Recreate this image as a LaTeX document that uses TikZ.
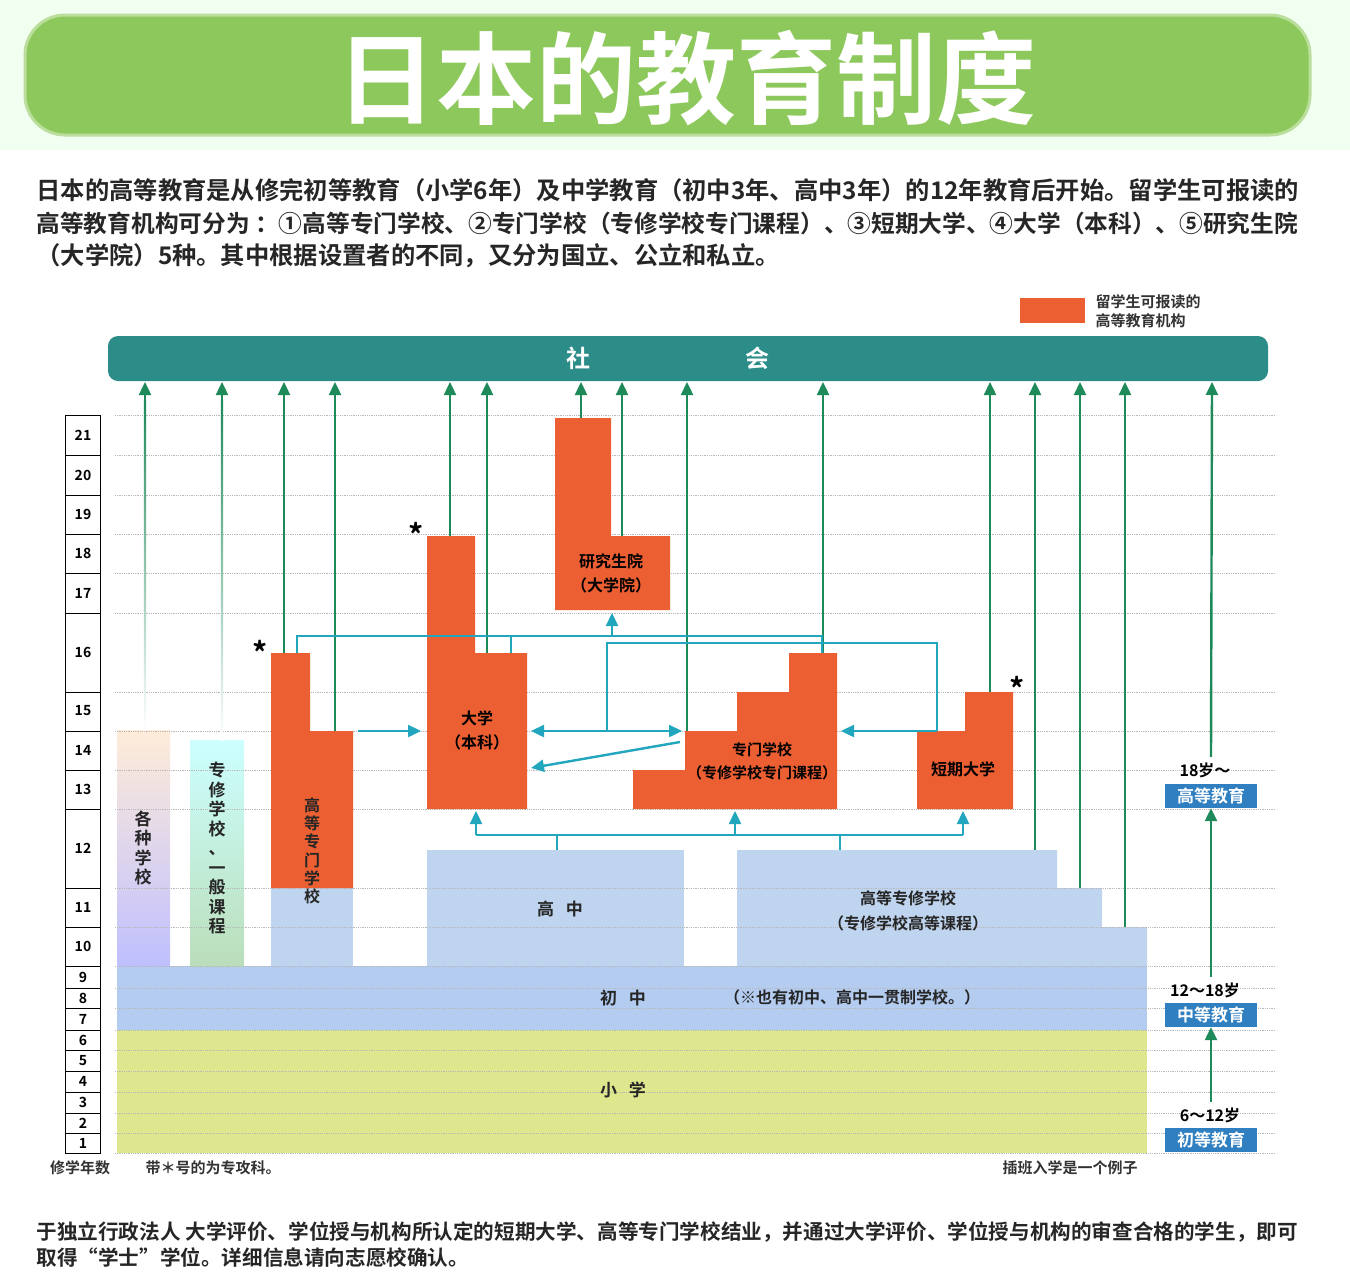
\documentclass[tikz,border=0pt]{standalone}
\usepackage{fontspec}
\setmainfont{Noto Sans CJK SC}[BoldFont={Noto Sans CJK SC Bold}]
\usetikzlibrary{arrows.meta}
\definecolor{org}{HTML}{EB5F32}
\definecolor{lb}{HTML}{BFD4EF}
\definecolor{cz}{HTML}{B3CCF0}
\definecolor{xx}{HTML}{DFE78E}
\definecolor{teal}{HTML}{2C8C88}
\definecolor{gar}{HTML}{1E8A5A}
\definecolor{cy}{HTML}{22A6BE}
\definecolor{bbox}{HTML}{2F7FC1}
\definecolor{ban}{HTML}{8DC85C}
\definecolor{grid}{HTML}{B8B8B8}
\tikzset{
 garrow/.style={gar,line width=2.4pt,-{Triangle[length=13pt,width=12pt]}},
 carrow/.style={cy,line width=2.4pt,-{Triangle[length=13pt,width=12pt]}},
 cline/.style={cy,line width=2.4pt},
 lbl/.style={font=\fontsize{17}{19}\selectfont\bfseries,text=black!85},
 vtxt/.style={lbl,align=center,font=\fontsize{17}{19.5}\selectfont\bfseries},
 para/.style={anchor=west,font=\fontsize{24.3}{26}\selectfont\bfseries,text=black!85},
 rnum/.style={font=\fontsize{14}{16}\selectfont\bfseries},
 agebox/.style={fill=bbox,text=white,minimum width=92pt,minimum height=24pt,font=\fontsize{17}{19}\selectfont\bfseries,inner sep=0pt},
 note/.style={font=\fontsize{15}{17}\selectfont\bfseries,text=black!80},
 star/.style={font=\fontsize{30}{30}\selectfont\bfseries},
}
\begin{document}
\begin{tikzpicture}[x=1pt,y=-1pt]
\useasboundingbox (0,0) rectangle (1350,1280);
\fill[green!6] (0,0) rectangle (1350,150);
% banner
\draw[line width=3pt,draw=ban!60,fill=ban,rounded corners=40pt] (25,15) rectangle (1310,135);
\node[font=\fontsize{100}{104}\selectfont\bfseries,text=white] (title) at (686,78) {日本的教育制度};
% paragraph
\node[para] (p1) at (33,190) {日本的高等教育是从修完初等教育（小学6年）及中学教育（初中3年、高中3年）的12年教育后开始。留学生可报读的};
\node[para,font=\fontsize{23.7}{26}\selectfont\bfseries] (p2) at (33,223) {高等教育机构可分为 ：①高等专门学校、②专门学校（专修学校专门课程）、③短期大学、④大学（本科）、⑤研究生院};
\node[para] (p3) at (33,256) {（大学院）5种。其中根据设置者的不同，又分为国立、公立和私立。};
% legend
\fill[org] (1020,298) rectangle (1085,323);
\node[note,anchor=west,align=left,font=\fontsize{15}{19}\selectfont\bfseries] (leg) at (1092,311) {留学生可报读的\\高等教育机构};
% society bar
\fill[teal,rounded corners=10pt] (108,336) rectangle (1268,381);
\node[text=white,font=\fontsize{24}{26}\selectfont\bfseries] (s1) at (578,358) {社};
\node[text=white,font=\fontsize{24}{26}\selectfont\bfseries] (s2) at (757,358) {会};
% bottom colour bands
\fill[xx] (117,1030) rectangle (1147,1153);
\fill[cz] (117,966) rectangle (1147,1030);
% columns
\shade[top color=orange!15,middle color=pink!60,bottom color=blue!25] (117,730) rectangle (170,966);
\shade[top color=cyan!20,middle color=cyan!30,bottom color=green!35!gray!40] (190,740) rectangle (244,966);
\fill[lb] (271,888) rectangle (353,966);
\fill[lb] (427,850) rectangle (684,966);
\fill[lb] (737,850) -- (1057,850) -- (1057,888) -- (1102,888) -- (1102,927) -- (1147,927) -- (1147,966) -- (737,966) -- cycle;
% grid lines
\foreach \y in {415,455,495,534,573,613,692,731,770,809,888,927,966,988,1008,1030,1050,1071,1092,1113,1133,1153}
  \draw[grid,densely dotted,line width=0.8pt] (115,\y) -- (1275,\y);
% ruler
\draw[line width=1pt] (65,415) rectangle (100,1153);
\foreach \y in {455,495,534,573,613,692,731,770,809,888,927,966,988,1008,1030,1050,1071,1092,1113,1133}
  \draw[line width=1pt] (65,\y) -- (100,\y);
\foreach \n/\y in {21/435,20/475,19/514,18/553,17/593,16/652,15/711,14/750,13/789,12/848,11/907,10/946,9/977,8/998,7/1019,6/1040,5/1061,4/1081,3/1102,2/1123,1/1143}
  \node[rnum] (r\n) at (83,\y) {\n};
% orange institutions
\fill[org] (271,653) -- (310,653) -- (310,731) -- (353,731) -- (353,888) -- (271,888) -- cycle;
\fill[org] (427,536) -- (475,536) -- (475,653) -- (527,653) -- (527,809) -- (427,809) -- cycle;
\fill[org] (555,418) -- (611,418) -- (611,536) -- (670,536) -- (670,610) -- (555,610) -- cycle;
\fill[org] (633,770) -- (685,770) -- (685,731) -- (737,731) -- (737,692) -- (789,692) -- (789,653) -- (837,653) -- (837,809) -- (633,809) -- cycle;
\fill[org] (917,731) -- (965,731) -- (965,692) -- (1013,692) -- (1013,809) -- (917,809) -- cycle;
\node[star] (a1) at (260,652) {*};
\node[star] (a2) at (416,534) {*};
\node[star] (a3) at (1017,688) {*};
% labels
\node[vtxt] (gz) at (143,848) {各\\种\\学\\校};
\node[vtxt] (zx) at (217,848) {专\\修\\学\\校\\、\\一\\般\\课\\程};
\node[vtxt,font=\fontsize{16}{18.3}\selectfont\bfseries] (gdzm) at (312,851) {高\\等\\专\\门\\学\\校};
\node[lbl,align=center,text=black,font=\fontsize{16}{24}\selectfont\bfseries] (dx) at (477,730) {大学\\（本科）};
\node[lbl,align=center,text=black,font=\fontsize{16}{24}\selectfont\bfseries] (yjs) at (611,573) {研究生院\\（大学院）};
\node[lbl,align=center,text=black,font=\fontsize{15}{23}\selectfont\bfseries] (zm) at (762,761) {专门学校\\（专修学校专门课程）};
\node[lbl,text=black,font=\fontsize{16}{18}\selectfont\bfseries] (dq) at (963,769) {短期大学};
\node[lbl] (gzh) at (560,909) {高\hspace{12pt}中};
\node[lbl,align=center,font=\fontsize{16}{25}\selectfont\bfseries] (gdzx) at (908,911) {高等专修学校\\（专修学校高等课程）};
\node[lbl] (cz) at (623,998) {初\hspace{12pt}中};
\node[lbl,font=\fontsize{16}{18}\selectfont\bfseries] (czn) at (852,997) {（※也有初中、高中一贯制学校。）};
\node[lbl] (xxl) at (623,1090) {小\hspace{12pt}学};
% green arrows to society
\foreach \x/\y in {284/653,335/731,450/536,487/653,581/418,622/536,687/731,823/653,990/692,1035/850,1080/888,1125/927}
  \draw[garrow] (\x,\y) -- (\x,382);
\shade[top color=gar,bottom color=white] (143.8,400) rectangle (146.2,730);
\draw[garrow] (145,400) -- (145,382);
\shade[top color=gar,bottom color=white] (220.8,400) rectangle (223.2,740);
\draw[garrow] (222,400) -- (222,382);
% cyan connectors
\draw[carrow] (358,731) -- (421,731);
\draw[cline] (297,653) -- (297,636) -- (822,636) -- (822,653);
\draw[cline] (511,636) -- (511,653);
\draw[carrow] (612,636) -- (612,613);
\draw[cline] (607,731) -- (607,643) -- (937,643) -- (937,731);
\draw[carrow] (937,731) -- (841,731);
\draw[cy,line width=2.4pt,{Triangle[length=13pt,width=12pt]}-{Triangle[length=13pt,width=12pt]}] (531,731) -- (682,731);
\draw[carrow] (680,742) -- (531,768);
\draw[cline] (476,835) -- (963,835);
\draw[cline] (557,850) -- (557,835);
\draw[cline] (840,850) -- (840,835);
\foreach \x in {476,735,963} \draw[carrow] (\x,835) -- (\x,811);
% age labels
\node[font=\fontsize{16}{18}\selectfont\bfseries] (ag3) at (1205,770) {18岁～};
\node[agebox] (b3) at (1211,796) {高等教育};
\node[font=\fontsize{16}{18}\selectfont\bfseries] (ag2) at (1205,990) {12～18岁};
\node[agebox] (b2) at (1211,1015) {中等教育};
\node[font=\fontsize{16}{18}\selectfont\bfseries] (ag1) at (1210,1115) {6～12岁};
\node[agebox] (b1) at (1211,1140) {初等教育};
\draw[garrow] (ag1.north -| b1.north) ++(0,-2) -- (b2.south);
\draw[garrow] (ag2.north -| b2.north) ++(0,-2) -- (b3.south);
\draw[garrow] (ag3.north -| b3.north) ++(0,-2) -- (1212,382);
% notes
\node[note] (n1) at (80,1168) {修学年数};
\node[note] (n2) at (213,1168) {带＊号的为专攻科。};
\node[note] (n3) at (1070,1168) {插班入学是一个例子};
\node[para,font=\fontsize{20.6}{22}\selectfont\bfseries] (f1) at (33,1232) {于独立行政法人 大学评价、学位授与机构所认定的短期大学、高等专门学校结业，并通过大学评价、学位授与机构的审查合格的学生，即可};
\node[para,font=\fontsize{20.6}{22}\selectfont\bfseries] (f2) at (33,1258) {取得“学士”学位。详细信息请向志愿校确认。};
\end{tikzpicture}
\end{document}
